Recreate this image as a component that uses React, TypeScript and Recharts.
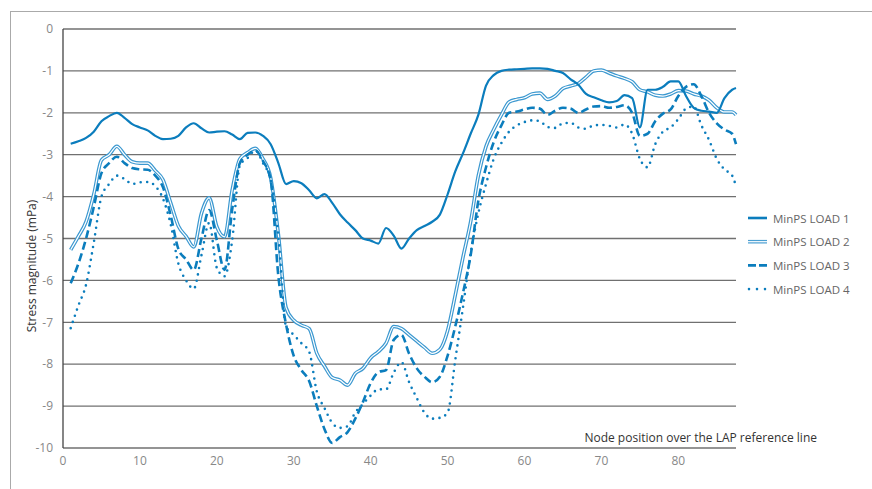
import React from 'react';
import { LineChart, Line, XAxis, YAxis, CartesianGrid } from 'recharts';

const nodes = [
  1, 2, 3, 4, 5, 6, 7, 8, 9, 10, 11, 12, 13, 14, 15, 16, 17, 18, 19, 20,
  21, 22, 23, 24, 25, 26, 27, 28, 29, 30, 31, 32, 33, 34, 35, 36, 37, 38, 39, 40,
  41, 42, 43, 44, 45, 46, 47, 48, 49, 50, 51, 52, 53, 54, 55, 56, 57, 58, 59, 60,
  61, 62, 63, 64, 65, 66, 67, 68, 69, 70, 71, 72, 73, 74, 75, 76, 77, 78, 79, 80,
  81, 82, 83, 84, 85, 86, 87, 87.5,
];

const load1 = [
  -2.74, -2.68, -2.6, -2.45, -2.2, -2.08, -2.0, -2.12, -2.27, -2.35,
  -2.42, -2.55, -2.63, -2.62, -2.55, -2.35, -2.25, -2.37, -2.47, -2.45,
  -2.44, -2.52, -2.63, -2.48, -2.47, -2.55, -2.75, -3.2, -3.7, -3.63,
  -3.68, -3.85, -4.04, -3.94, -4.15, -4.42, -4.62, -4.8, -5.0, -5.05,
  -5.12, -4.75, -4.93, -5.24, -5.0, -4.8, -4.7, -4.6, -4.43, -3.95,
  -3.4, -2.97, -2.5, -2.05, -1.35, -1.1, -1.0, -0.97, -0.96, -0.95,
  -0.94, -0.94, -0.95, -1.0, -1.05, -1.2, -1.33, -1.55, -1.63, -1.7,
  -1.75, -1.72, -1.58, -1.65, -2.35, -1.45, -1.45, -1.38, -1.25, -1.25,
  -1.6, -1.88, -1.95, -1.97, -2.0, -1.65, -1.45, -1.41,
];

const load2 = [
  -5.27, -4.95, -4.6, -3.95, -3.13, -3.0, -2.8, -3.0, -3.17, -3.2,
  -3.2, -3.38, -3.6, -4.15, -4.7, -4.95, -5.2, -4.4, -4.03, -4.72,
  -4.96, -3.84, -3.1, -2.95, -2.85, -3.1, -3.55, -4.9, -6.65, -6.95,
  -7.07, -7.15, -7.74, -8.05, -8.32, -8.38, -8.5, -8.22, -8.1, -7.85,
  -7.7, -7.5, -7.1, -7.15, -7.3, -7.45, -7.6, -7.74, -7.65, -7.2,
  -6.35, -5.45, -4.6, -3.5, -2.8, -2.4, -2.05, -1.74, -1.68, -1.64,
  -1.55, -1.53, -1.68, -1.6, -1.42, -1.36, -1.3, -1.15, -1.0, -0.98,
  -1.05, -1.12, -1.18, -1.26, -1.45, -1.5, -1.58, -1.6, -1.55, -1.47,
  -1.48, -1.55, -1.6, -1.7, -1.88, -1.98, -1.98, -2.05,
];

const load3 = [
  -6.07, -5.6, -5.0, -4.25, -3.44, -3.2, -3.05, -3.2, -3.32, -3.35,
  -3.36, -3.5, -3.78, -4.45, -5.25, -5.5, -5.75, -5.0, -4.32, -5.04,
  -5.75, -4.3, -3.2, -3.0, -2.9, -3.15, -3.6, -5.9, -7.05, -7.8,
  -8.14, -8.4, -9.0, -9.55, -9.88, -9.74, -9.62, -9.3, -8.9, -8.45,
  -8.19, -8.14, -7.42, -7.3, -7.75, -8.1, -8.3, -8.43, -8.3, -7.8,
  -7.1, -6.3, -5.4, -4.1, -3.3, -2.7, -2.3, -2.0, -1.97, -1.92,
  -1.88, -1.9, -2.05, -1.95, -1.88, -1.9, -2.0, -1.92, -1.85, -1.84,
  -1.88, -1.86, -1.82, -2.0, -2.55, -2.5, -2.2, -2.02, -1.92, -1.6,
  -1.38, -1.32, -1.6, -2.0, -2.25, -2.4, -2.5, -2.75,
];

const load4 = [
  -7.14, -6.6, -6.1, -5.1, -4.0, -3.7, -3.5, -3.58, -3.7, -3.66,
  -3.65, -3.75, -4.05, -4.66, -5.6, -6.0, -6.2, -5.4, -4.63, -5.7,
  -5.9, -5.04, -3.25, -3.08, -2.9, -3.2, -3.6, -4.95, -7.1, -7.3,
  -7.5, -7.7, -8.65, -9.05, -9.4, -9.52, -9.48, -9.15, -8.95, -8.75,
  -8.6, -8.6, -8.2, -7.95, -8.43, -8.81, -9.16, -9.3, -9.28, -9.16,
  -7.9, -6.65, -5.35, -4.4, -3.7, -3.1, -2.72, -2.45, -2.3, -2.22,
  -2.18, -2.2, -2.34, -2.36, -2.25, -2.24, -2.35, -2.38, -2.3, -2.29,
  -2.31, -2.35, -2.28, -2.5, -3.1, -3.3, -2.75, -2.45, -2.35, -2.15,
  -1.9, -1.85, -2.3, -2.65, -3.1, -3.35, -3.5, -3.75,
];

const seriesNames = ['MinPS LOAD 1', 'MinPS LOAD 2', 'MinPS LOAD 3', 'MinPS LOAD 4'];
const xTicks = [0, 10, 20, 30, 40, 50, 60, 70, 80];
const yTicks = [0, -1, -2, -3, -4, -5, -6, -7, -8, -9, -10];

const BLUE = '#0b7dbd';
const FONT = '"Open Sans", sans-serif';

const data = nodes.map((n, i) => ({
  node: n,
  load1: load1[i],
  load2: load2[i],
  load3: load3[i],
  load4: load4[i],
}));

function LegendIcon({ index }: { index: number }) {
  if (index === 0) return <line x1={0} y1={5} x2={19} y2={5} stroke={BLUE} strokeWidth={2.6} />;
  if (index === 1)
    return (
      <g>
        <line x1={0} y1={5} x2={19} y2={5} stroke="#4a9fd2" strokeWidth={3.6} />
        <line x1={0} y1={5} x2={19} y2={5} stroke="#fff" strokeWidth={1.2} />
      </g>
    );
  if (index === 2) return <line x1={0} y1={5} x2={19} y2={5} stroke={BLUE} strokeWidth={2.8} strokeDasharray="8 3" />;
  return <line x1={1} y1={5} x2={19} y2={5} stroke={BLUE} strokeWidth={2.6} strokeDasharray="0 8" strokeLinecap="round" />;
}

export default function App() {
  return (
    <div style={{ position: 'absolute', left: 0, top: 0, width: 872, height: 489, overflow: 'hidden', background: '#fff' }}>
      <div style={{ position: 'absolute', left: 10, top: 11, width: 900, height: 520, borderTop: '1px solid #aaa', borderLeft: '1px solid #aaa' }} />
      <LineChart
        width={872}
        height={489}
        data={data}
        margin={{ top: 29, right: 136, bottom: 0, left: 0 }}
        style={{ position: 'absolute', left: 0, top: 0, fontFamily: FONT }}
      >
        <CartesianGrid vertical={false} stroke="#707070" strokeWidth={1.3} />
        <XAxis
          dataKey="node"
          type="number"
          domain={[0, 87.5]}
          ticks={xTicks}
          height={41}
          axisLine={false}
          tickLine={false}
          tick={{ fill: '#888', fontSize: 12 }}
        />
        <YAxis
          type="number"
          domain={[-10, 0]}
          ticks={yTicks}
          width={63}
          tickLine={false}
          tickMargin={4}
          axisLine={{ stroke: '#444', strokeWidth: 1.3 }}
          tick={{ fill: '#888', fontSize: 12 }}
        />
        <Line dataKey="load2" type="monotone" stroke="#3b98d0" strokeWidth={3.6} dot={false} isAnimationActive={false} />
        <Line dataKey="load2" type="monotone" stroke="#fff" strokeWidth={1.2} dot={false} isAnimationActive={false} legendType="none" />
        <Line dataKey="load1" type="monotone" stroke={BLUE} strokeWidth={2.2} dot={false} isAnimationActive={false} />
        <Line dataKey="load3" type="monotone" stroke={BLUE} strokeWidth={2.6} strokeDasharray="8 4" dot={false} isAnimationActive={false} />
        <Line dataKey="load4" type="monotone" stroke={BLUE} strokeWidth={2.6} strokeDasharray="0 6.5" strokeLinecap="round" dot={false} isAnimationActive={false} />
      </LineChart>
      <svg width={872} height={489} style={{ position: 'absolute', left: 0, top: 0, pointerEvents: 'none', fontFamily: FONT }}>
        <text x={36} y={266} transform="rotate(-90 36 266)" textAnchor="middle" fontSize={12} fill="#333">
          Stress magnitude (mPa)
        </text>
        <text x={817} y={442} textAnchor="end" fontSize={12} fill="#333">
          Node position over the LAP reference line
        </text>
        {seriesNames.map((name, i) => (
          <g key={name} transform={`translate(748, ${213 + i * 23.7})`}>
            <LegendIcon index={i} />
            <text x={25} y={9.5} fontSize={11.5} fill="#666">
              {name}
            </text>
          </g>
        ))}
      </svg>
    </div>
  );
}
